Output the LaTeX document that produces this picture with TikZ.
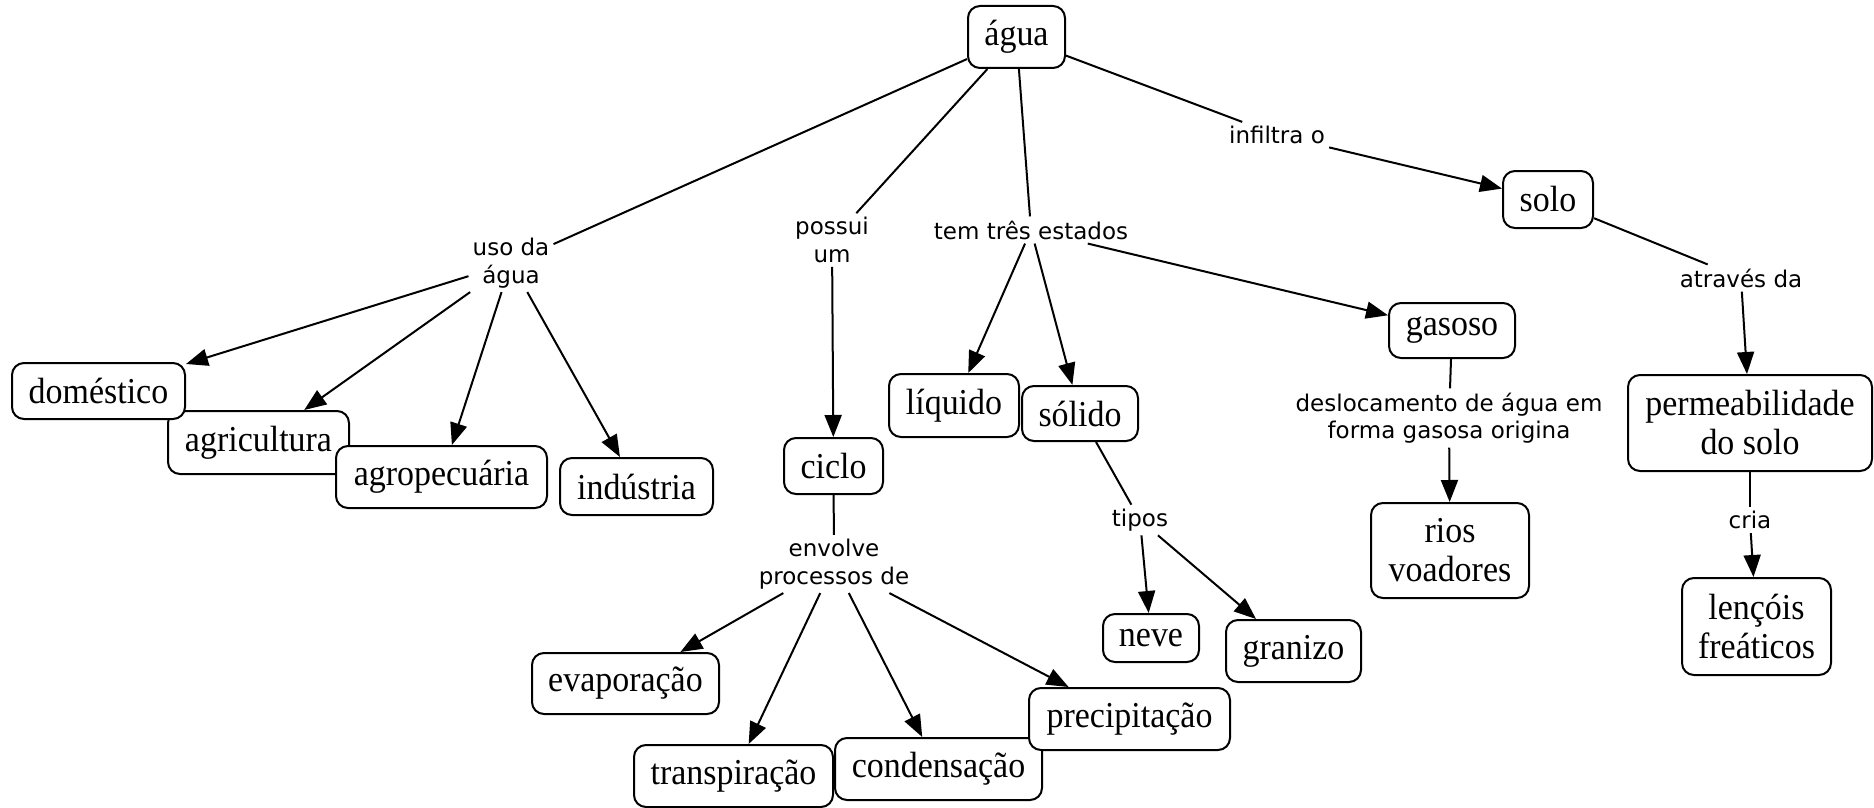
\documentclass[tikz,border=0pt]{standalone}
\usepackage{fontspec}
\setmainfont[FakeStretch=0.93]{Liberation Serif}
\newfontfamily\labfont{DejaVu Sans}
\usetikzlibrary{arrows.meta}
\begin{document}
\begin{tikzpicture}[x=1pt,y=-1pt,
  concept/.style={draw, line width=2pt, rounded corners=12pt, fill=white, align=center, inner sep=2pt,
    font=\fontsize{36.5}{39}\selectfont},
  linking/.style={align=center, inner sep=4pt, font=\labfont\fontsize{23}{27.5}\selectfont},
  conn/.style={line width=2pt},
  arr/.style={line width=2pt, -{Triangle[length=22pt,width=17pt]}}]
\useasboundingbox[fill=white] (0,0) rectangle (1874,808);

% concepts
\node[concept, minimum width=97pt, minimum height=62pt] (agua) at (1016.5,37) {água};
\node[concept, minimum width=90pt, minimum height=57pt] (solo) at (1548,199.5) {solo};
\node[concept, minimum width=126pt, minimum height=55pt] (gasoso) at (1452,330.5) {gasoso};
\node[concept, minimum width=244pt, minimum height=96pt] (perm) at (1750,423) {permeabilidade\\do solo};
\node[concept, minimum width=158pt, minimum height=95pt] (rios) at (1450,550.5) {rios\\voadores};
\node[concept, minimum width=149pt, minimum height=97pt] (lencois) at (1756.5,626.5) {lençóis\\freáticos};
\node[concept, minimum width=181pt, minimum height=63pt] (agricultura) at (258.5,442.5) {agricultura};
\node[concept, minimum width=173pt, minimum height=56pt] (domestico) at (98.5,391) {doméstico};
\node[concept, minimum width=211pt, minimum height=62pt] (agropecuaria) at (441.5,477) {agropecuária};
\node[concept, minimum width=153pt, minimum height=57pt] (industria) at (636.5,486.5) {indústria};
\node[concept, minimum width=99pt, minimum height=56pt] (ciclo) at (833.5,466) {ciclo};
\node[concept, minimum width=187pt, minimum height=61pt] (evaporacao) at (625.5,683.5) {evaporação};
\node[concept, minimum width=199pt, minimum height=62pt] (transpiracao) at (733.5,776) {transpiração};
\node[concept, minimum width=207pt, minimum height=62pt] (condensacao) at (938.5,769) {condensação};
\node[concept, minimum width=201pt, minimum height=62pt] (precipitacao) at (1129.5,719) {precipitação};
\node[concept, minimum width=130pt, minimum height=63pt] (liquido) at (954,405.5) {líquido};
\node[concept, minimum width=116pt, minimum height=55pt] (solido) at (1080,413.5) {sólido};
\node[concept, minimum width=96pt, minimum height=48pt] (neve) at (1151,638) {neve};
\node[concept, minimum width=135pt, minimum height=62pt] (granizo) at (1293.5,651) {granizo};

% linking phrases
\node[linking] (uso) at (511,263) {uso da\\água};
\node[linking] (possui) at (832,240) {possui\\um};
\node[linking] (estados) at (1031,230) {tem três estados};
\node[linking] (infiltra) at (1277,135) {infiltra o};
\node[linking] (atraves) at (1741,278) {através da};
\node[linking] (desloc) at (1449,418) {deslocamento de água em\\forma gasosa origina};
\node[linking] (cria) at (1750,520) {cria};
\node[linking] (tipos) at (1140,520) {tipos};
\node[linking] (envolve) at (834,564) {envolve\\processos de};

% connectors
\draw[conn] (agua) -- (uso);
\draw[arr] (uso) -- (domestico);
\draw[arr] (uso) -- (agricultura);
\draw[arr] (uso) -- (agropecuaria);
\draw[arr] (uso) -- (industria);

\draw[conn] (agua) -- (possui);
\draw[arr] (possui) -- (ciclo);
\draw[conn] (ciclo) -- (envolve);
\draw[arr] (envolve) -- (evaporacao);
\draw[arr] (envolve) -- (transpiracao);
\draw[arr] (envolve) -- (condensacao);
\draw[arr] (envolve) -- (precipitacao);

\draw[conn] (agua) -- (estados);
\draw[arr] (estados) -- (liquido);
\draw[arr] (estados) -- (solido);
\draw[arr] (estados) -- (gasoso);
\draw[conn] (solido) -- (tipos);
\draw[arr] (tipos) -- (neve);
\draw[arr] (tipos) -- (granizo);
\draw[conn] (gasoso) -- (desloc);
\draw[arr] (desloc) -- (rios);

\draw[conn] (agua) -- (infiltra);
\draw[arr] (infiltra) -- (solo);
\draw[conn] (solo) -- (atraves);
\draw[arr] (atraves) -- (perm);
\draw[conn] (perm) -- (cria);
\draw[arr] (cria) -- (lencois);
\end{tikzpicture}
\end{document}
